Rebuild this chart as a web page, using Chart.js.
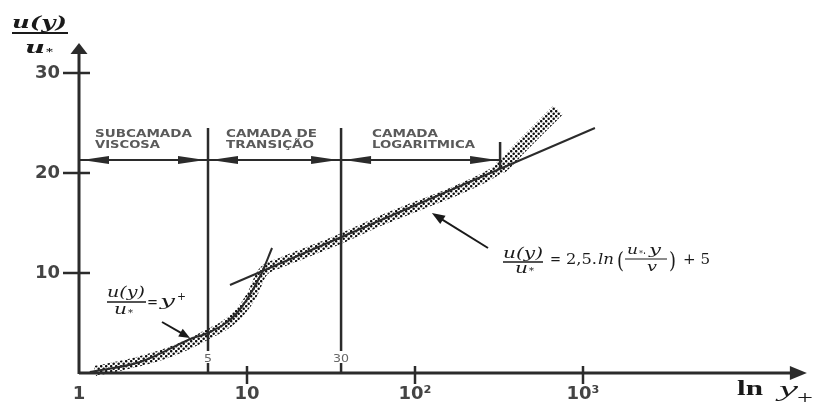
<!DOCTYPE html>
<html>
<head>
<meta charset="utf-8">
<script src="https://cdn.jsdelivr.net/npm/chart.js@4.4.1/dist/chart.umd.min.js"></script>
<style>
  html, body { margin: 0; padding: 0; background: #fff; }
  canvas { display: block; }
</style>
</head>
<body>
<canvas id="lawOfWallChart" width="817" height="405"></canvas>
<script>
// axis ticks
const xTickValues = [1, 10, 100, 1000];
const xTickLabels = ["1", "10", "10²", "10³"];
const yTickValues = [10, 20, 30];

// measured velocity profile (dotted band), y+ vs u/u*
const bandYPlus = [1.245, 2.21, 3.48, 4.77, 5.86, 7.4, 9.09, 10.7, 12.3, 15.7, 20.7, 35.8, 61.9, 107, 185, 321, 422, 555, 710];
const bandU = [0.2, 1.1, 2.1, 3.1, 3.9, 4.8, 6.1, 7.8, 10.0, 11.0, 11.8, 13.4, 15.2, 16.8, 18.4, 20.5, 22.5, 24.5, 26.3];

// u/u* = y+ (viscous sublayer curve)
const linearYPlus = [1.16, 2.31, 4.77, 5.86, 8.72, 11.9, 14.1];
const linearU = [0.1, 1.1, 3.5, 4.0, 6.0, 9.6, 12.5];

// u/u* = 2,5 ln(y+) + 5 (log law line)
const logYPlus = [7.92, 1178];
const logU = [8.8, 24.5];

// zone boundaries
const boundaryYPlus = [5.86, 36.3, 321];
const boundaryFrom = [0, 0, 20.5];
const boundaryTo = [24.5, 24.5, 23.1];
const boundaryLabels = ["5", "30", ""];

// zone arrows and names
const zoneArrowU = 21.3;
const zoneStart = [1, 5.86, 36.3];
const zoneEnd = [5.86, 36.3, 321];
const zoneNames = [["SUBCAMADA", "VISCOSA"], ["CAMADA DE", "TRANSIÇÃO"], ["CAMADA", "LOGARITMICA"]];
const zoneNameX = [1.245, 7.5, 55.5];
const zoneNameU = 24.3;

// annotation anchors (data units)
const viscousNote = { x: 1.468, u: 7.1, fromX: 3.12, fromU: 5.1, toX: 4.58, toU: 3.5 };
const logNote = { x: 334, u: 11.1, fromX: 272, fromU: 12.5, toX: 126, toU: 16.0 };
const xAxisEnd = 21500;

const INK = "#2b2b2b";

function dotPattern() {
  const c = document.createElement("canvas");
  c.width = 5; c.height = 5;
  const g = c.getContext("2d");
  g.fillStyle = "#0d0d0d";
  [[1.2, 1.2], [3.7, 3.7]].forEach(p => {
    g.beginPath(); g.arc(p[0], p[1], 1.25, 0, Math.PI * 2); g.fill();
  });
  return g.createPattern(c, "repeat");
}

function toPoints(xs, ys) {
  return xs.map((x, i) => ({ x: x, y: ys[i] }));
}

function fitText(ctx, text, x, y, width, font) {
  ctx.save();
  ctx.font = font;
  const w = ctx.measureText(text).width;
  const k = width ? width / w : 1;
  ctx.translate(x, y);
  ctx.scale(k, 1);
  ctx.textAlign = "left";
  ctx.fillText(text, 0, 0);
  ctx.restore();
}

function arrowHead(ctx, tipX, tipY, fromX, fromY, len, half) {
  const a = Math.atan2(tipY - fromY, tipX - fromX);
  ctx.save();
  ctx.translate(tipX, tipY);
  ctx.rotate(a);
  ctx.beginPath();
  ctx.moveTo(0, 0);
  ctx.lineTo(-len, -half);
  ctx.lineTo(-len, half);
  ctx.closePath();
  ctx.fill();
  ctx.restore();
}

function line(ctx, x1, y1, x2, y2, w) {
  ctx.lineWidth = w;
  ctx.beginPath();
  ctx.moveTo(x1, y1);
  ctx.lineTo(x2, y2);
  ctx.stroke();
}

const SERIF = '"DejaVu Serif"';
const SANS = '"DejaVu Sans"';

const decorPlugin = {
  id: "wallDecor",
  afterDraw(chart) {
    const ctx = chart.ctx;
    const xs = chart.scales.x, ys = chart.scales.y;
    const area = chart.chartArea;
    const px = v => xs.getPixelForValue(v);
    const py = v => ys.getPixelForValue(v);

    ctx.save();
    ctx.strokeStyle = INK;
    ctx.fillStyle = INK;
    ctx.lineCap = "butt";

    // axes with arrows
    const x0 = area.left, y0 = area.bottom;
    line(ctx, x0, y0 + 1, x0, area.top + 10, 3);
    arrowHead(ctx, x0, area.top, x0, y0, 11, 8.5);
    const xEnd = px(xAxisEnd);
    line(ctx, x0, y0, xEnd - 15, y0, 3);
    arrowHead(ctx, xEnd, y0, x0, y0, 17, 7);

    // tick marks crossing the axes
    yTickValues.forEach(v => line(ctx, x0 - 16, py(v), x0 + 11, py(v), 2.5));
    xTickValues.slice(1).forEach(v => line(ctx, px(v), y0 - 7, px(v), y0 + 11, 2.5));

    // zone arrowheads
    const ay = py(zoneArrowU);
    zoneStart.forEach((s, i) => {
      const a = px(s) + 3, b = px(zoneEnd[i]) - 3;
      arrowHead(ctx, a, ay, b, ay, 27, 4);
      arrowHead(ctx, b, ay, a, ay, 27, 4);
    });

    // zone names
    ctx.fillStyle = "#5a5a5a";
    const nameWidths = [[97, 65], [91, 88], [66, 103]];
    zoneNames.forEach((lines, i) => {
      lines.forEach((t, j) => {
        fitText(ctx, t, px(zoneNameX[i]), py(zoneNameU) + 7 + j * 10.5, nameWidths[i][j], "bold 10px " + SANS);
      });
    });

    // boundary labels
    boundaryLabels.forEach((t, i) => {
      if (!t) return;
      const bx = px(boundaryYPlus[i]);
      const w = t.length * 8;
      ctx.fillStyle = "#fff";
      ctx.fillRect(bx - w / 2 - 1, 351, w + 2, 12);
      ctx.fillStyle = "#666";
      fitText(ctx, t, bx - w / 2, 362, w, "10px " + SANS);
    });

    ctx.fillStyle = "#1a1a1a";
    ctx.strokeStyle = "#1a1a1a";

    // y title: u(y) / u*
    const tx = area.left - 67, ty = area.top - 10;
    fitText(ctx, "u(y)", tx, ty - 5, 55, "bold italic 17px " + SERIF);
    line(ctx, tx, ty, tx + 56, ty, 2);
    fitText(ctx, "u", tx + 13, ty + 20, 20, "bold italic 17px " + SERIF);
    fitText(ctx, "*", tx + 34, ty + 22, 7, "bold 10px " + SERIF);

    // x title: ln y+
    fitText(ctx, "ln", 737, 395, 26, 'bold 21px "Liberation Serif"');
    fitText(ctx, "y", 779, 396, 19, 'italic 22px "Liberation Serif"');
    fitText(ctx, "+", 797, 404, 16, '18px "Liberation Serif"');

    // note 1: u(y)/u* = y+
    let bx = px(viscousNote.x), by = py(viscousNote.u);
    fitText(ctx, "u(y)", bx, by - 5, 38, "italic 14px " + SERIF);
    line(ctx, bx, by, bx + 39, by, 1.3);
    fitText(ctx, "u", bx + 7, by + 12, 13, "italic 14px " + SERIF);
    fitText(ctx, "*", bx + 21, by + 14, 5, "9px " + SERIF);
    fitText(ctx, "=", bx + 40, by + 5, 11, "16px " + SERIF);
    fitText(ctx, "y", bx + 53, by + 4, 15, "italic 15px " + SERIF);
    fitText(ctx, "+", bx + 70, by - 2, 9, "11px " + SERIF);
    let ax1 = px(viscousNote.fromX), ay1 = py(viscousNote.fromU);
    let ax2 = px(viscousNote.toX), ay2 = py(viscousNote.toU);
    line(ctx, ax1, ay1, ax2 - 6, ay2 - 3.4, 2);
    arrowHead(ctx, ax2, ay2, ax1, ay1, 11, 4.5);

    // note 2: u(y)/u* = 2,5. ln(u*.y/v) + 5
    bx = px(logNote.x); by = py(logNote.u);
    fitText(ctx, "u(y)", bx, by - 4, 40, "italic 14px " + SERIF);
    line(ctx, bx, by, bx + 40, by, 1.3);
    fitText(ctx, "u", bx + 12, by + 11, 13, "italic 14px " + SERIF);
    fitText(ctx, "*", bx + 26, by + 12, 5, "9px " + SERIF);
    fitText(ctx, "=", bx + 47, by + 2, 11, "16px " + SERIF);
    fitText(ctx, "2,5.", bx + 63, by + 2, 31, "15px " + SERIF);
    fitText(ctx, "ln", bx + 95, by + 2, 16, "italic 15px " + SERIF);
    fitText(ctx, "(", bx + 114, by + 6, 7, "22px " + SERIF);
    fitText(ctx, "u", bx + 124, by - 8, 11, "italic 12px " + SERIF);
    fitText(ctx, "*", bx + 136, by - 6, 4, "8px " + SERIF);
    fitText(ctx, ".", bx + 140, by - 8, 3, "12px " + SERIF);
    fitText(ctx, "y", bx + 146, by - 8, 12, "italic 13px " + SERIF);
    line(ctx, bx + 122, by - 3, bx + 164, by - 3, 1.1);
    fitText(ctx, "v", bx + 144, by + 9, 10, "italic 13px " + SERIF);
    fitText(ctx, ")", bx + 166, by + 6, 7, "22px " + SERIF);
    fitText(ctx, "+ 5", bx + 180, by + 2, 27, "15px " + SERIF);
    ax1 = px(logNote.fromX); ay1 = py(logNote.fromU);
    ax2 = px(logNote.toX); ay2 = py(logNote.toU);
    line(ctx, ax1, ay1, ax2 + 6, ay2 + 3.8, 2);
    arrowHead(ctx, ax2, ay2, ax1, ay1, 13, 5);

    ctx.restore();
  }
};

const lineStyle = { showLine: true, pointRadius: 0, borderColor: INK, fill: false, clip: false };

const datasets = [
  Object.assign({ data: toPoints(linearYPlus, linearU), borderWidth: 2, cubicInterpolationMode: "monotone", order: 0 }, lineStyle),
  Object.assign({ data: toPoints(logYPlus, logU), borderWidth: 2, order: 0 }, lineStyle),
  Object.assign({ data: toPoints([zoneStart[0], zoneEnd[2]], [zoneArrowU, zoneArrowU]), borderWidth: 2, order: 1 }, lineStyle),
];
boundaryYPlus.forEach((b, i) => {
  datasets.push(Object.assign({ data: [{ x: b, y: boundaryFrom[i] }, { x: b, y: boundaryTo[i] }], borderWidth: 2.5, order: 1 }, lineStyle));
});
datasets.push({
  data: toPoints(bandYPlus, bandU),
  showLine: true,
  pointRadius: 0,
  borderColor: dotPattern(),
  borderWidth: 10,
  segment: { borderWidth: c => (c.p0DataIndex >= 15 ? 13 : 10) },
  cubicInterpolationMode: "monotone",
  fill: false,
  clip: false,
  order: 5
});

new Chart(document.getElementById("lawOfWallChart"), {
  type: "scatter",
  data: { datasets: datasets },
  options: {
    responsive: false,
    animation: false,
    events: [],
    layout: { padding: { left: 0, right: 66, top: 43, bottom: 0 } },
    plugins: { legend: { display: false }, tooltip: { enabled: false } },
    scales: {
      x: {
        type: "logarithmic",
        min: 1,
        max: 10000,
        grid: { display: false, drawTicks: false },
        border: { display: false },
        afterBuildTicks: s => { s.ticks = xTickValues.map(v => ({ value: v })); },
        afterFit: s => { s.height = 32; },
        ticks: {
          autoSkip: false,
          maxRotation: 0,
          padding: 11,
          color: "#444",
          font: { family: "DejaVu Sans", size: 18, weight: "bold" },
          callback: (v, i) => xTickLabels[i]
        }
      },
      y: {
        min: 0,
        max: 33,
        grid: { display: false, drawTicks: false },
        border: { display: false },
        afterBuildTicks: s => { s.ticks = yTickValues.map(v => ({ value: v })); },
        afterFit: s => { s.width = 79; },
        ticks: {
          padding: 19,
          color: "#444",
          font: { family: "DejaVu Sans", size: 18, weight: "bold" }
        }
      }
    }
  },
  plugins: [decorPlugin]
});
</script>
</body>
</html>
